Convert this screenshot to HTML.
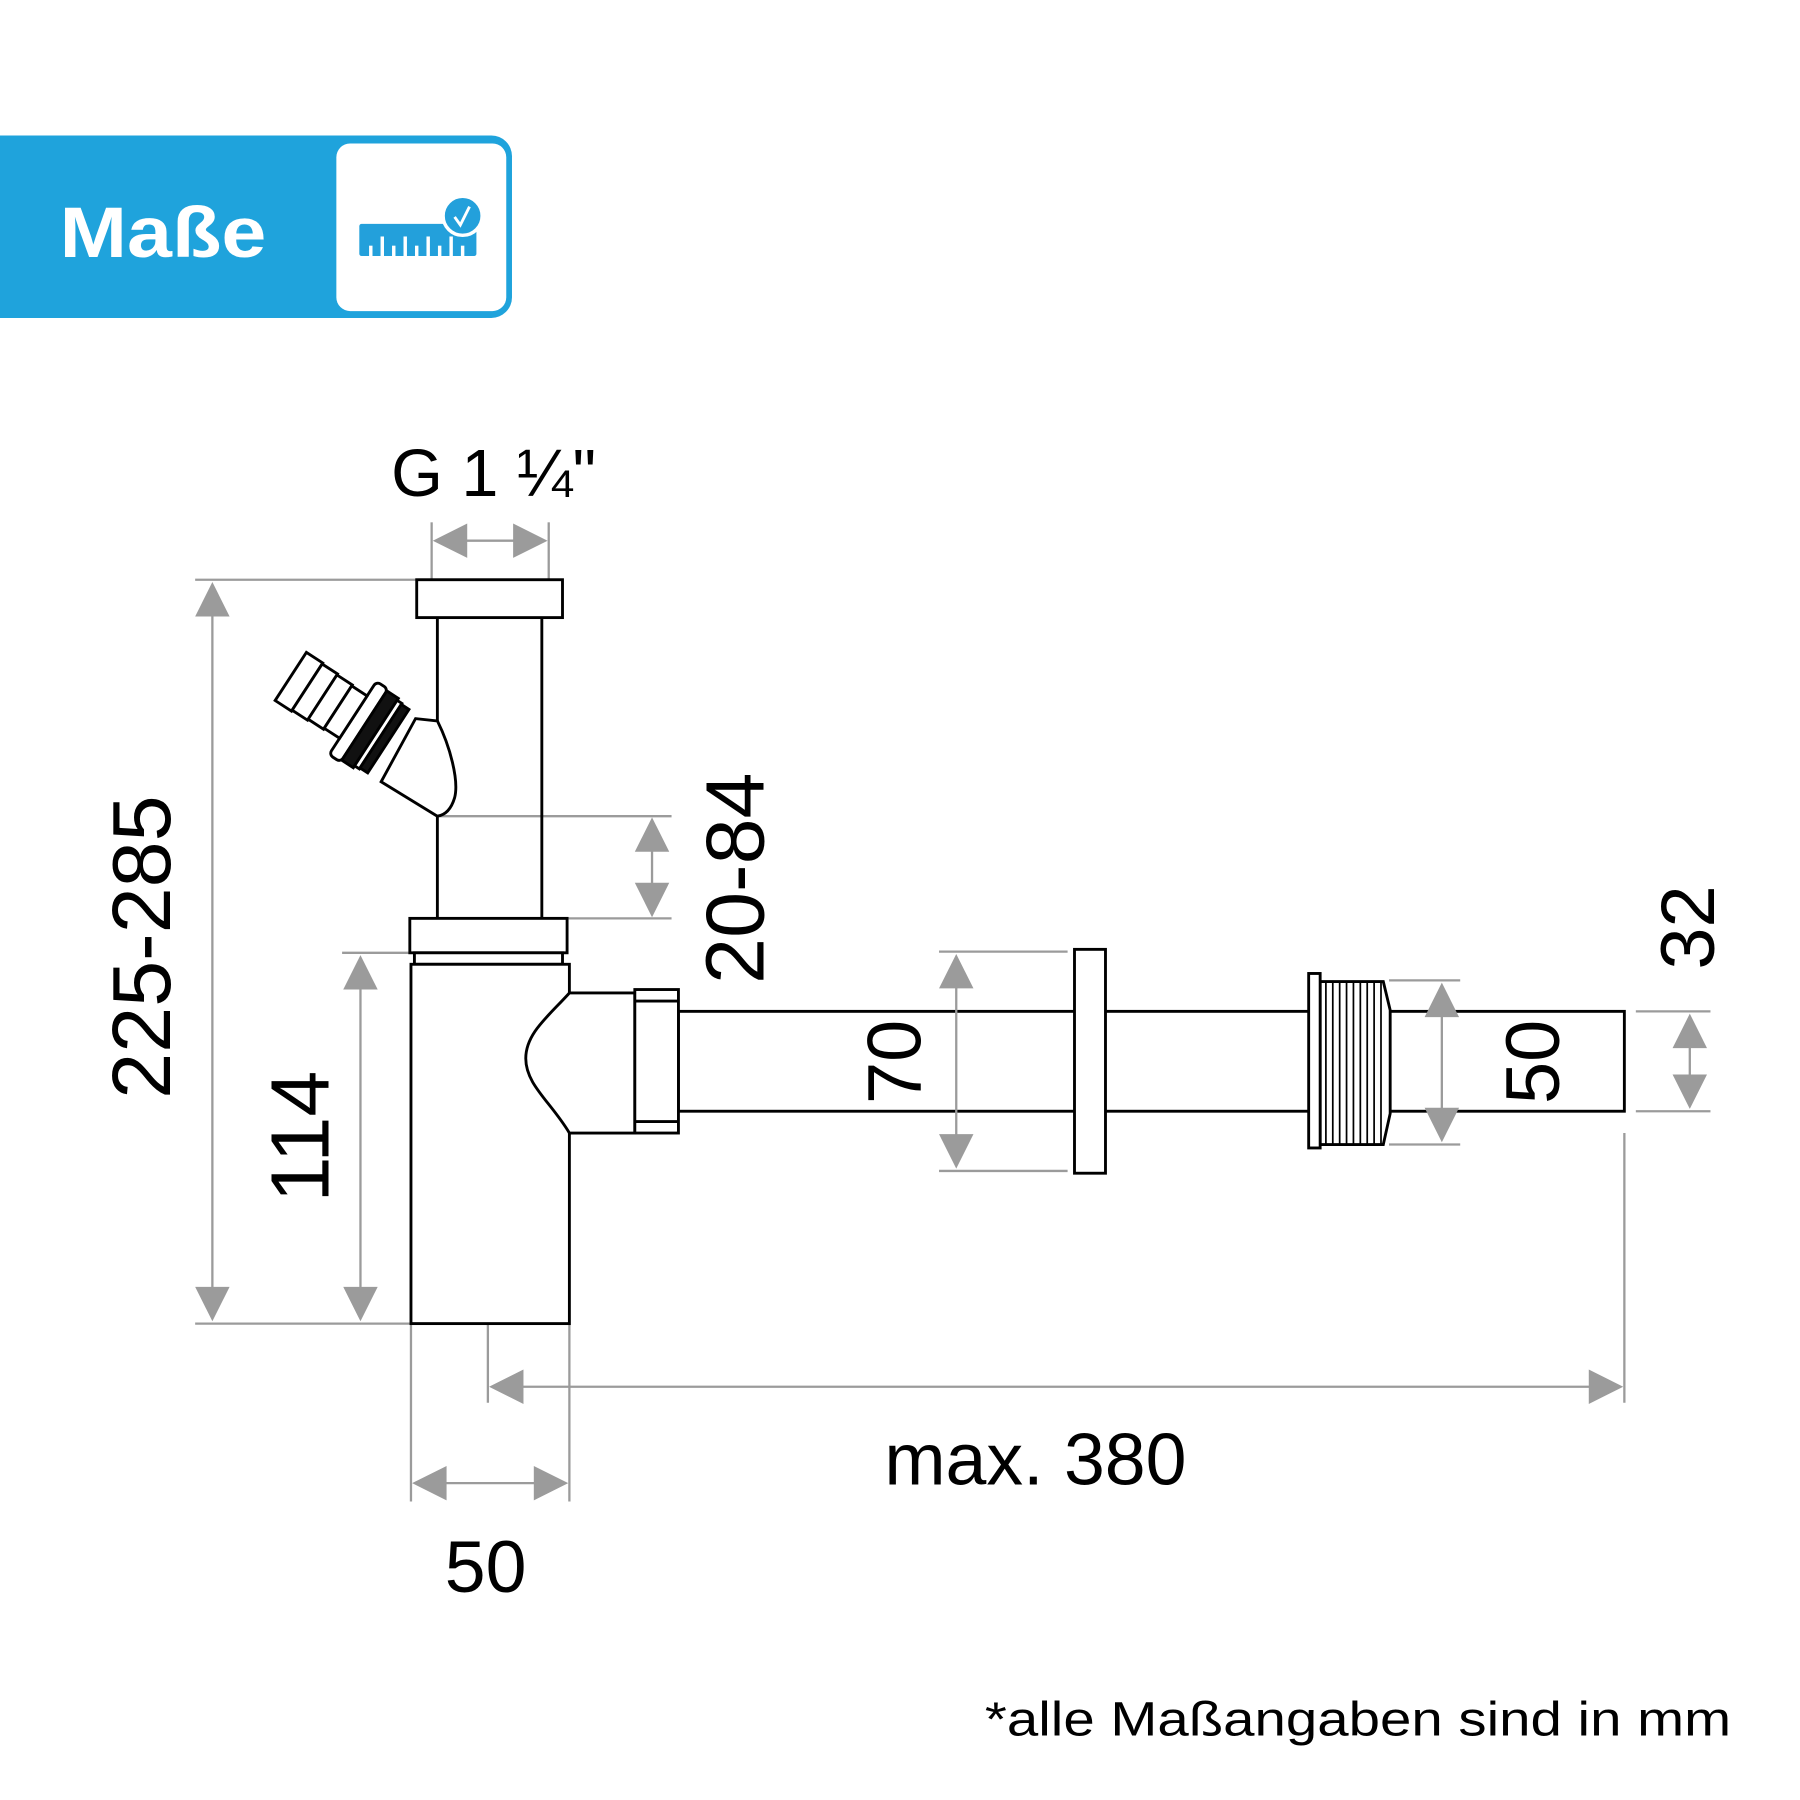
<!DOCTYPE html>
<html><head><style>html,body{margin:0;padding:0;background:#fff}svg{display:block}</style></head>
<body>
<svg width="1800" height="1800" viewBox="0 0 1568 1568" xmlns="http://www.w3.org/2000/svg" font-family="Liberation Sans, sans-serif">
<defs>
<g id="au"><polygon points="0,0 -15,30 15,30" fill="#9b9b9b"/></g>
<g id="ad"><polygon points="0,0 -15,-30 15,-30" fill="#9b9b9b"/></g>
<g id="al"><polygon points="0,0 30,-15 30,15" fill="#9b9b9b"/></g>
<g id="ar"><polygon points="0,0 -30,-15 -30,15" fill="#9b9b9b"/></g>
</defs>
<!-- banner -->
<path d="M0 118 H428 a18 18 0 0 1 18 18 V259 a18 18 0 0 1 -18 18 H0 Z" fill="#1fa3dc"/>
<rect x="293" y="125" width="148" height="146" rx="12" fill="#fff"/>
<text x="52" y="224" font-size="62" font-weight="bold" fill="#fff" textLength="180" lengthAdjust="spacingAndGlyphs">Maße</text>
<rect x="313" y="195" width="102" height="28" rx="2" fill="#23a0db"/>
<g stroke="#fff" stroke-width="3">
<line x1="323" y1="214" x2="323" y2="224"/><line x1="333" y1="206" x2="333" y2="224"/><line x1="343" y1="214" x2="343" y2="224"/><line x1="353" y1="206" x2="353" y2="224"/><line x1="363" y1="214" x2="363" y2="224"/><line x1="373" y1="206" x2="373" y2="224"/><line x1="383" y1="214" x2="383" y2="224"/><line x1="393" y1="206" x2="393" y2="224"/><line x1="403" y1="214" x2="403" y2="224"/>
</g>
<circle cx="403" cy="188" r="17" fill="#23a0db" stroke="#fff" stroke-width="3"/>
<polyline points="396,189 401,196 409,180" fill="none" stroke="#fff" stroke-width="2.5"/>

<!-- dimension lines -->
<g stroke="#9b9b9b" stroke-width="2" fill="none">
<line x1="170" y1="505" x2="363" y2="505"/><line x1="170" y1="1153" x2="358" y2="1153"/>
<line x1="185" y1="520" x2="185" y2="1140"/>
<line x1="298" y1="830" x2="357" y2="830"/><line x1="314" y1="840" x2="314" y2="1140"/>
<line x1="383" y1="711" x2="585" y2="711"/><line x1="494" y1="800" x2="585" y2="800"/><line x1="568" y1="720" x2="568" y2="790"/>
<line x1="376" y1="455" x2="376" y2="505"/><line x1="478" y1="455" x2="478" y2="505"/><line x1="390" y1="471" x2="465" y2="471"/>
<line x1="818" y1="829" x2="930" y2="829"/><line x1="818" y1="1020" x2="930" y2="1020"/>
<line x1="1210" y1="854" x2="1272" y2="854"/><line x1="1210" y1="997" x2="1272" y2="997"/>
<line x1="1425" y1="881" x2="1490" y2="881"/><line x1="1425" y1="968" x2="1490" y2="968"/><line x1="1472" y1="895" x2="1472" y2="955"/>
<line x1="1415" y1="987" x2="1415" y2="1222"/><line x1="425" y1="1112" x2="425" y2="1222"/><line x1="440" y1="1208" x2="1400" y2="1208"/>
<line x1="358" y1="1153" x2="358" y2="1308"/><line x1="496" y1="1153" x2="496" y2="1308"/><line x1="370" y1="1292" x2="485" y2="1292"/>
</g>
<use href="#au" x="185" y="507"/><use href="#ad" x="185" y="1151"/>
<use href="#au" x="314" y="832"/><use href="#ad" x="314" y="1151"/>
<use href="#au" x="568" y="712"/><use href="#ad" x="568" y="799"/>
<use href="#al" x="377" y="471"/><use href="#ar" x="477" y="471"/>
<use href="#au" x="1472" y="883"/><use href="#ad" x="1472" y="966"/>
<use href="#al" x="426" y="1208"/><use href="#ar" x="1414" y="1208"/>
<use href="#al" x="359" y="1292"/><use href="#ar" x="495" y="1292"/>

<!-- object -->
<g stroke="#000" stroke-width="2.5" fill="#fff">
<rect x="363" y="505" width="127" height="33"/>
<line x1="381" y1="538" x2="381" y2="800"/><line x1="472" y1="538" x2="472" y2="800"/>
<rect x="357" y="800" width="137" height="30"/>
<rect x="361" y="830" width="129" height="10"/>
<rect x="358" y="840" width="138" height="313"/>
<rect x="591" y="881" width="824" height="87"/>
<path d="M496 865 H553 V987 H496 C480 960 458 945 458 922 C458 900 478 885 496 865 Z"/>
<rect x="553" y="862" width="38" height="125"/>
<line x1="553" y1="872" x2="591" y2="872"/><line x1="553" y1="977" x2="591" y2="977"/>
<rect x="936" y="827" width="27" height="195"/>
<path d="M1150 855 H1205 L1211 880 V970 L1205 997 H1150 Z"/>
<rect x="1140" y="848" width="10" height="152"/>
</g>
<g stroke="#000" stroke-width="1.5">
<line x1="1155" y1="855" x2="1155" y2="997"/><line x1="1161" y1="855" x2="1161" y2="997"/><line x1="1167" y1="855" x2="1167" y2="997"/><line x1="1173" y1="855" x2="1173" y2="997"/><line x1="1179" y1="855" x2="1179" y2="997"/><line x1="1185" y1="855" x2="1185" y2="997"/><line x1="1191" y1="855" x2="1191" y2="997"/><line x1="1197" y1="855" x2="1197" y2="997"/><line x1="1203" y1="855" x2="1203" y2="997"/>
</g>
<!-- 70 and 50 dims drawn over pipe -->
<g stroke="#9b9b9b" stroke-width="2">
<line x1="833" y1="845" x2="833" y2="1005"/>
<line x1="1256" y1="870" x2="1256" y2="980"/>
</g>
<use href="#au" x="833" y="831"/><use href="#ad" x="833" y="1018"/>
<use href="#au" x="1256" y="856"/><use href="#ad" x="1256" y="995"/>
<!-- side hose fitting -->
<path d="M381 628 C392 650 400 680 396 695 C393 705 388 710 381 711 L332 681 L362 626 Z" fill="#fff" stroke="#000" stroke-width="2.5"/>
<g transform="translate(345,650) rotate(33)" stroke="#000" stroke-width="2.5" fill="#fff">
<rect x="-45" y="-38" width="12" height="76" rx="4"/>
<rect x="-33" y="-36" width="12" height="72" fill="#111"/>
<rect x="-21" y="-34" width="5" height="68"/>
<rect x="-16" y="-33" width="8" height="66" fill="#111"/>
<rect x="-110" y="-26" width="17" height="50"/>
<rect x="-93" y="-25" width="16" height="48"/>
<rect x="-77" y="-24" width="16" height="46"/>
<rect x="-61" y="-23" width="16" height="44"/>
</g>

<!-- labels -->
<g fill="#000" font-size="72">
<text x="430" y="432" font-size="58" text-anchor="middle">G 1 ¼"</text>
<text transform="translate(148,825) rotate(-90)" text-anchor="middle">225-285</text>
<text transform="translate(286,990) rotate(-90)" text-anchor="middle">114</text>
<text transform="translate(665,765) rotate(-90)" text-anchor="middle">20-84</text>
<text transform="translate(802,925) rotate(-90)" text-anchor="middle" font-size="66">70</text>
<text transform="translate(1358,925) rotate(-90)" text-anchor="middle" font-size="66">50</text>
<text transform="translate(1493,808) rotate(-90)" text-anchor="middle" font-size="66">32</text>
<text x="902" y="1293" text-anchor="middle" font-size="64">max. 380</text>
<text x="423" y="1387" text-anchor="middle" font-size="64">50</text>
<text x="858" y="1512" font-size="42" textLength="650" lengthAdjust="spacingAndGlyphs">*alle Maßangaben sind in mm</text>
</g>
</svg>
</body></html>
